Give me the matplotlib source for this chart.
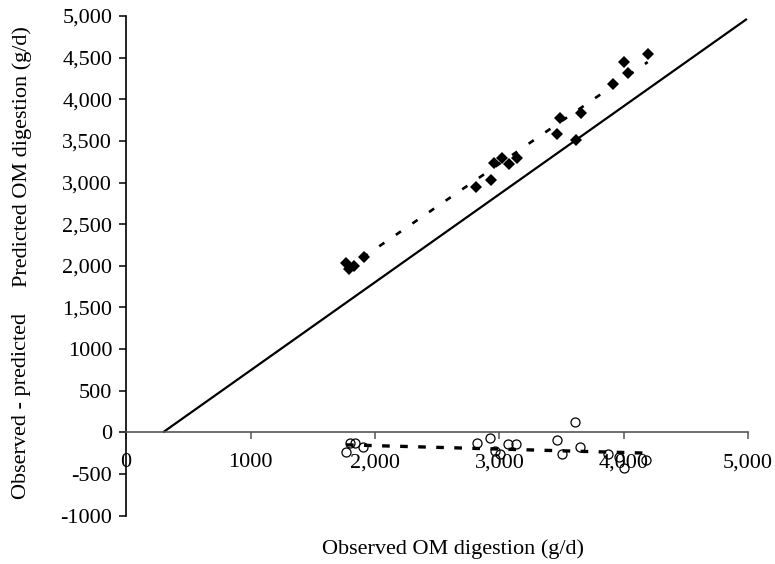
import matplotlib
matplotlib.use("Agg")
import matplotlib.pyplot as plt

plt.rcParams['font.family'] = ['Liberation Serif', 'DejaVu Serif']
plt.rcParams['lines.scale_dashes'] = False

# Observed vs predicted OM digestion (g/d)
obs = [1767, 1795, 1830, 1910, 2812, 2930, 2960, 3018, 3080, 3139,
       3461, 3487, 3616, 3654, 3911, 3998, 4036, 4192]
pred = [2035, 1967, 1995, 2107, 2941, 3029, 3229, 3289, 3221, 3297,
        3578, 3770, 3510, 3838, 4183, 4445, 4315, 4545]

# Residuals (observed - predicted)
resid_x = [1767, 1800, 1840, 1904, 2817, 2924, 2965, 3005, 3072, 3134,
           3466, 3501, 3608, 3648, 3870, 3960, 4005, 4180]
resid_y = [-237, -128, -128, -180, -125, -72, -221, -260, -140, -140,
           -92, -260, 127, -172, -255, -300, -432, -333]

# Reference line and fitted trends
ref_x = [296, 4990]
ref_y = [0, 4965]
fit_x = [1767, 4192]
fit_y = [1961, 4447]
rfit_x = [1767, 4192]
rfit_y = [-150, -250]

yticks = [5000, 4500, 4000, 3500, 3000, 2500, 2000, 1500, 1000, 500, 0, -500, -1000]
ytick_labels = ['5,000', '4,500', '4,000', '3,500', '3,000', '2,500', '2,000',
                '1,500', '1000', '500', '0', '-500', '-1000']
xticks = [0, 1000, 2000, 3000, 4000, 5000]
xtick_labels = ['0', '1000', '2,000', '3,000', '4,000', '5,000']

fig = plt.figure(figsize=(7.75, 5.64), dpi=100)
ax = fig.add_axes([0.1628, 0.0858, 0.8026, 0.8858])

ax.plot(ref_x, ref_y, color='black', lw=1.6, solid_capstyle='butt')
ax.plot(fit_x, fit_y, color='black', lw=1.9, dashes=[4.5, 10])
ax.plot(rfit_x, rfit_y, color='black', lw=2.4, dashes=[5.5, 7.5])
ax.plot(obs, pred, linestyle='none', marker='D', markersize=6.5,
        color='black', markeredgewidth=0)
ax.plot(resid_x, resid_y, linestyle='none', marker='o', markersize=6.5,
        markerfacecolor='none', markeredgecolor='black', markeredgewidth=0.9)

ax.set_xlim(0, 5000)
ax.set_ylim(-1000, 5000)

ax.spines['top'].set_visible(False)
ax.spines['right'].set_visible(False)
ax.spines['bottom'].set_position(('data', 0))
ax.spines['bottom'].set_color('#555555')
ax.spines['bottom'].set_linewidth(1.2)
ax.spines['left'].set_color('black')
ax.spines['left'].set_linewidth(1.2)

ax.set_yticks(yticks)
ax.set_yticklabels(ytick_labels)
ax.set_xticks(xticks)
ax.set_xticklabels(xtick_labels)
ax.tick_params(axis='y', direction='out', length=5, width=1.1, pad=5,
               labelsize=16, colors='black')
ax.tick_params(axis='x', direction='out', length=5, width=1.1, pad=10,
               labelsize=16, color='#555555', labelcolor='black')

fig.text(0.028, 0.722, 'Predicted OM digestion (g/d)', rotation=90,
         ha='center', va='center', fontsize=16)
fig.text(0.028, 0.280, 'Observed - predicted', rotation=90,
         ha='center', va='center', fontsize=16)
fig.text(0.5845, 0.026, 'Observed OM digestion (g/d)',
         ha='center', va='center', fontsize=16)

fig.savefig('out.png', dpi=100)
